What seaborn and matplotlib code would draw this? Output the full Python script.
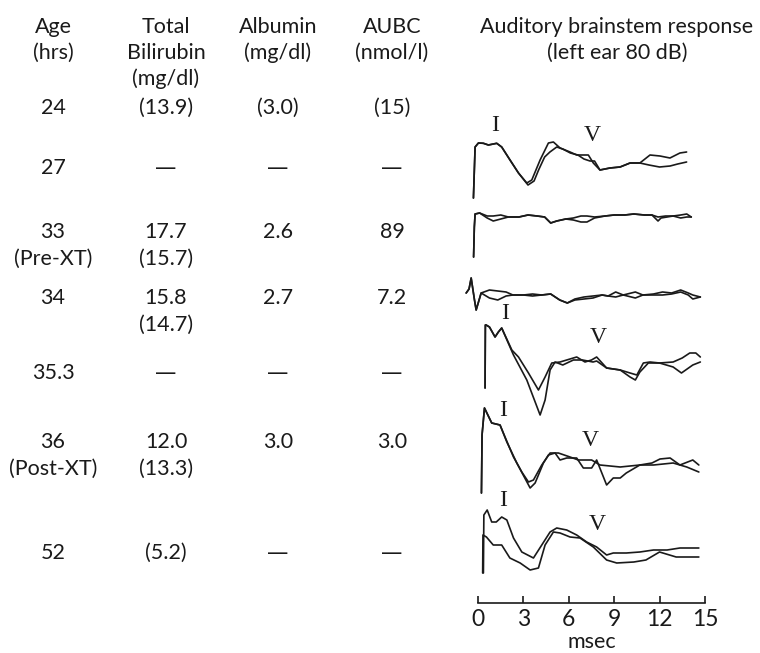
import numpy as np
import pandas as pd
import matplotlib
matplotlib.use("Agg")
import matplotlib.pyplot as plt
import seaborn as sns

# table values
ages = ["24", "27", "33", "34", "35.3", "36", "52"]
age_notes = ["", "", "(Pre-XT)", "", "", "(Post-XT)", ""]
bili_main = ["(13.9)", "—", "17.7", "15.8", "—", "12.0", "(5.2)"]
bili_second = ["", "", "(15.7)", "(14.7)", "", "(13.3)", ""]
albumin = ["(3.0)", "—", "2.6", "2.7", "—", "3.0", "—"]
aubc = ["(15)", "—", "89", "7.2", "—", "3.0", "—"]

# ABR traces: (msec, amplitude) for two superimposed recordings per age
abr_24_a = [(-0.31, -33), (-0.2, 18), (0.02, 22), (0.35, 21.7), (0.68, 20), (1.23, 21.7), (1.56, 18),
            (2.11, 5), (2.67, -8), (3.22, -18), (3.55, -15), (4.1, 5), (4.65, 22), (4.98, 23),
            (5.42, 17), (6.08, 13), (6.52, 10), (7.29, 10), (7.62, 2), (8.06, -5), (8.72, -3),
            (9.39, -2), (10.05, 2), (10.7, 2), (11.37, 10), (12.03, 9), (12.69, 7), (13.35, 12),
            (13.79, 13)]
abr_24_b = [(-0.31, -33), (-0.2, 18), (0.02, 22), (0.35, 21.7), (0.68, 20), (1.23, 21.7), (1.56, 18),
            (2.11, 5), (2.67, -8), (3.3, -20), (3.7, -16), (4.0, -5), (4.4, 8), (4.75, 13),
            (5.2, 18), (5.6, 16), (6.1, 12), (6.6, 10), (7.0, 6), (7.4, 4), (7.7, 4), (8.06, -5),
            (8.72, -3), (9.39, -2), (10.05, 2), (10.7, 2), (11.3, 0), (12.0, -2), (12.7, -1),
            (13.2, 1), (13.79, 3)]
abr_33_a = [(-0.3, -40), (-0.25, -10), (-0.2, 3), (0.1, 4), (0.6, 1), (1.0, 1), (1.5, 2), (2.0, 0),
            (2.7, 0), (3.3, 2), (3.9, 1), (4.4, 0), (4.8, -6), (5.2, -4), (5.8, -2), (6.3, -1),
            (6.8, 1), (7.2, 1), (7.7, 0), (8.4, 1), (9.0, 2), (9.7, 2), (10.3, 3), (11.0, 2),
            (11.5, 2), (11.9, 0), (12.4, 1), (12.9, 1), (13.4, 2), (13.8, 3), (14.1, 0)]
abr_33_b = [(-0.3, -40), (-0.25, -10), (-0.2, 3), (0.1, 4), (0.6, -1), (1.0, -4), (1.5, -2), (2.0, 0),
            (2.7, 0), (3.3, 2), (3.9, 1), (4.4, 0), (4.8, -6), (5.2, -4), (5.8, -2), (6.3, -3),
            (6.8, -5), (7.2, -5), (7.7, -1), (8.4, 1), (9.0, 2), (9.7, 2), (10.3, 3), (11.0, 2),
            (11.5, 2), (11.9, -4), (12.1, -1), (12.9, 1), (13.4, -1), (13.8, 0), (14.1, 0)]
abr_34_a = [(-0.79, 2), (-0.6, 6), (-0.46, 17), (-0.24, -5), (-0.13, -15), (0.2, 2), (0.75, 5),
            (1.3, 4), (1.85, 3), (2.3, 0), (3.0, 0), (3.6, 1), (4.2, 0), (4.8, 1), (5.4, -5),
            (5.9, -8), (6.4, -4), (7.0, -2), (7.6, -1), (8.2, 0), (8.6, -1), (9.1, 3), (9.6, 0),
            (10.4, 3), (10.9, 0), (11.6, 1), (12.2, 3), (12.8, 2), (13.4, 5), (13.9, 2),
            (14.2, 0), (14.7, -2)]
abr_34_b = [(-0.79, 2), (-0.6, 6), (-0.46, 17), (-0.24, -5), (-0.13, -15), (0.2, 2), (0.75, -3),
            (1.3, -5), (1.85, -1), (2.3, 0), (3.0, 0), (3.6, -1), (4.2, 0), (4.8, 1), (5.4, -5),
            (5.9, -8), (6.4, -5), (7.0, -4), (7.6, -3), (8.2, 0), (8.6, -1), (9.1, -2), (9.6, 0),
            (10.4, -3), (10.9, 0), (11.6, 0), (12.2, 0), (12.8, 1), (13.4, 3), (13.9, 0),
            (14.2, -4), (14.7, -2)]
abr_353_a = [(0.46, -28), (0.48, 35), (0.53, 35), (0.75, 33), (1.12, 23), (1.34, 28), (1.56, 32),
             (2.23, 10), (2.67, 3), (3.33, -13), (3.99, -30), (4.43, -17), (4.87, -3), (5.42, -2),
             (6.08, 1), (6.52, 3), (7.07, -2), (7.5, 0), (7.84, 3), (8.5, -8), (9.4, -10),
             (10.05, -13), (10.5, -15), (10.93, -3), (11.37, -2), (12.0, -3), (12.9, -2),
             (13.5, 2), (14.0, 7), (14.4, 7), (14.7, 3)]
abr_353_b = [(0.46, -28), (0.48, 35), (0.53, 35), (0.75, 33), (1.12, 23), (1.34, 28), (1.56, 32),
             (2.34, 5), (3.22, -20), (4.1, -55), (4.43, -40), (4.76, -10), (5.09, -2), (5.6, -5),
             (6.3, 0), (6.9, 0), (7.6, -2), (7.84, -1), (8.5, -8), (9.4, -10), (10.05, -17),
             (10.4, -20), (10.7, -12), (11.26, -3), (12.0, -3), (12.9, -7), (13.45, -13),
             (14.2, -5), (14.7, -2)]
abr_36_a = [(0.22, -28), (0.26, 30), (0.42, 57), (0.9, 42), (1.45, 40), (1.78, 28), (2.34, 8),
            (2.89, -7), (3.33, -17), (3.66, -15), (4.21, 0), (4.76, 12), (5.31, 12), (6.08, 8),
            (6.63, 5), (7.51, 5), (8.06, 0), (9.4, -2), (10.7, 0), (11.5, 2), (12.03, 6),
            (12.7, 7), (13.35, 0), (14.2, 5), (14.6, 0)]
abr_36_b = [(0.22, -28), (0.26, 30), (0.42, 57), (0.9, 42), (1.45, 40), (1.9, 23), (2.56, 2),
            (3.44, -23), (3.77, -18), (4.32, 2), (4.65, 10), (5.09, 12), (5.42, 5), (5.86, 7),
            (6.52, 7), (6.96, -3), (7.51, -3), (7.84, 5), (8.5, -20), (8.94, -13), (9.4, -13),
            (9.8, -8), (10.7, 0), (11.6, 0), (12.9, 2), (13.8, -2), (14.6, -7)]
abr_52_a = [(0.35, -18), (0.38, 40), (0.6, 45), (0.9, 33), (1.2, 33), (1.56, 38), (1.9, 35),
            (2.34, 17), (2.89, 3), (3.66, -3), (4.21, 10), (4.76, 23), (5.2, 27), (5.86, 25),
            (6.52, 20), (7.18, 13), (7.84, 8), (8.5, 0), (8.94, 2), (9.8, 2), (10.7, 3),
            (11.6, 5), (12.5, 5), (13.35, 7), (14.6, 7)]
abr_52_b = [(0.3, -18), (0.32, 20), (0.55, 18), (1.0, 10), (1.56, 10), (2.1, -3), (2.78, -8),
            (3.44, -15), (3.99, -13), (4.43, 10), (4.98, 23), (5.42, 22), (6.08, 18), (6.74, 17),
            (7.62, 8), (8.5, -5), (9.17, -8), (10.3, -7), (11.1, -5), (12.0, 3), (13.1, -2),
            (14.6, -2)]

trace_ages = ["24", "27", "34", "35.3", "36", "52"]
trace_curves = [(abr_24_a, abr_24_b), (abr_33_a, abr_33_b), (abr_34_a, abr_34_b),
                (abr_353_a, abr_353_b), (abr_36_a, abr_36_b), (abr_52_a, abr_52_b)]
msec_ticks = [0, 3, 6, 9, 12, 15]

# wave labels: (text, trace index, msec, height above trace)
wave_labels = [("I", 0, 1.12, 40), ("V", 0, 7.53, 30),
               ("I", 3, 1.78, 47), ("V", 3, 7.93, 23),
               ("I", 4, 1.65, 55), ("V", 4, 7.40, 25),
               ("I", 5, 1.65, 55), ("V", 5, 7.86, 30)]

# layout
W, H = 760, 653
trace_offsets = [438, 386, 308, 243, 138, 48]
row_y = [108, 168, 232, 298, 373, 442, 553]
line_gap = 27
col_x = [53, 166, 278, 392]
ink = "#1a1a1a"

sns.set_theme(style="white")
plt.rcParams["font.family"] = ["Lato", "DejaVu Sans"]

fig = plt.figure(figsize=(W / 100, H / 100), dpi=100)


def ftext(x, y, s, **kw):
    if s == "—":
        kw["family"] = "DejaVu Sans"
    fig.text(x / W, 1 - y / H, s, ha="center", va="center", color=ink, fontsize=15.5, **kw)


# header
headers = [["Age", "(hrs)"], ["Total", "Bilirubin", "(mg/dl)"], ["Albumin", "(mg/dl)"], ["AUBC", "(nmol/l)"]]
for cx, lines in zip(col_x, headers):
    for k, s in enumerate(lines):
        ftext(cx, 27 + k * 26, s)
ftext(617, 27, "Auditory brainstem response")
ftext(617, 53, "(left ear 80 dB)")

# table rows
for i, y in enumerate(row_y):
    ftext(col_x[0], y, ages[i])
    if age_notes[i]:
        ftext(col_x[0], y + line_gap, age_notes[i])
    ftext(col_x[1], y, bili_main[i])
    if bili_second[i]:
        ftext(col_x[1], y + line_gap, bili_second[i])
    ftext(col_x[2], y, albumin[i])
    ftext(col_x[3], y, aubc[i])

# traces
rows = []
for k, (age, curves) in enumerate(zip(trace_ages, trace_curves)):
    for r, pts in enumerate(curves):
        for j, (t, a) in enumerate(pts):
            rows.append({"msec": t, "amp": a + trace_offsets[k], "curve": f"{age}-{r}", "order": j})
df = pd.DataFrame(rows)

ax = fig.add_axes([463 / W, (H - 603) / H, 257 / W, 503 / H])
sns.lineplot(data=df, x="msec", y="amp", units="curve", estimator=None, sort=False,
             color=ink, lw=1.2, ax=ax)
ax.set_xlim(-1, 16)
ax.set_ylim(0, 503)

for s, k, t, h in wave_labels:
    ax.text(t, trace_offsets[k] + h, s, ha="center", va="center", color=ink,
            fontsize=17, family=["Liberation Serif", "DejaVu Serif"])

for side in ["left", "top", "right"]:
    ax.spines[side].set_visible(False)
ax.spines["bottom"].set_bounds(0, 15)
ax.spines["bottom"].set_color(ink)
ax.spines["bottom"].set_linewidth(1.2)
ax.set_yticks([])
ax.set_xticks(msec_ticks)
ax.tick_params(axis="x", direction="in", length=5, width=1.2, color=ink, pad=4,
               labelsize=16.5, labelcolor=ink, bottom=True)
ax.set_xlabel("msec", fontsize=15.5, color=ink, labelpad=2)
ax.set_ylabel("")
ax.patch.set_alpha(0)

fig.savefig("out.png", dpi=100)
